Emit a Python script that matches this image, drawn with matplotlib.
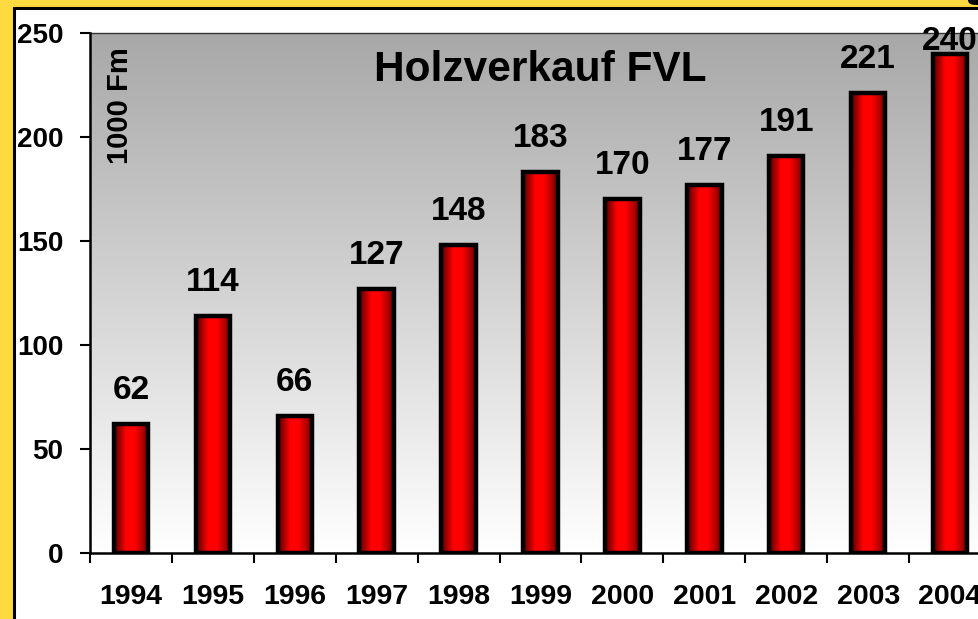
import numpy as np
import matplotlib
matplotlib.use("Agg")
import matplotlib.pyplot as plt
from matplotlib.colors import LinearSegmentedColormap
from matplotlib.patches import Rectangle, FancyBboxPatch

years = ["1994", "1995", "1996", "1997", "1998", "1999", "2000", "2001", "2002", "2003", "2004"]
values = [62, 114, 66, 127, 148, 183, 170, 177, 191, 221, 240]
yticks = [0, 50, 100, 150, 200, 250]
title = "Holzverkauf FVL"
unit = "1000 Fm"

plt.rcParams['font.family'] = ['Liberation Sans', 'DejaVu Sans']
plt.rcParams['font.weight'] = 'bold'

W, H = 979, 619
fig = plt.figure(figsize=(W / 100, H / 100), dpi=100)
fig.patch.set_facecolor('#FFD940')

# inner white panel with black border
panel = Rectangle((14 / W, -0.05), 1.2, (H - 8) / H + 0.05, transform=fig.transFigure,
                  facecolor='white', edgecolor='black', lw=2.2, zorder=-2)
fig.patches.append(panel)
corner = FancyBboxPatch((968 / W, 1 - 5 / H), 20 / W, 10 / H, boxstyle="round,pad=0,rounding_size=0.008",
                        transform=fig.transFigure, facecolor='black', edgecolor='none', zorder=-1)
fig.patches.append(corner)

left, right, top, bottom = 90, 991, 33, 553
ax = fig.add_axes([left / W, (H - bottom) / H, (right - left) / W, (bottom - top) / H])
ax.set_zorder(1)
ax.set_facecolor('none')

n = len(years)
x = np.arange(n)

# background gradient
grad = np.linspace(0, 1, 256).reshape(-1, 1)
bg_cmap = LinearSegmentedColormap.from_list('bg', ['#FFFFFF', '#A8A8A8'])
ax.imshow(grad, extent=[0, 1, 0, 1], transform=ax.transAxes, aspect='auto',
          cmap=bg_cmap, origin='lower', zorder=0)

bar_cmap = LinearSegmentedColormap.from_list('bar', [
    (0.0, '#500000'), (0.15, '#9A0000'), (0.35, '#FF0000'), (0.6, '#FF0000'),
    (0.85, '#A80000'), (1.0, '#580000')])
hgrad = np.linspace(0, 1, 256).reshape(1, -1)

bw = 0.42
bars = ax.bar(x, values, width=bw, facecolor='none', edgecolor='black', lw=3.2, zorder=3)
for b in bars:
    im = ax.imshow(hgrad, extent=[b.get_x(), b.get_x() + b.get_width(), 0, b.get_height()],
                   aspect='auto', cmap=bar_cmap, zorder=2)
    im.set_clip_path(b)

ax.set_xlim(-0.5, n - 0.5)
ax.set_ylim(0, 250)

for xi, v in zip(x, values):
    ax.text(xi, min(v + 12, 242), str(v), ha='center', va='baseline',
            fontsize=24, fontweight='bold', zorder=5, clip_on=False)

ax.text(0.5, 0.929, title, transform=ax.transAxes, ha='center', va='center',
        fontsize=30.5, fontweight='bold', zorder=5)
ax.text(0.033, 0.86, unit, transform=ax.transAxes, ha='center', va='center',
        rotation=90, fontsize=21, fontweight='bold', zorder=5)

ax.set_yticks(yticks)
ax.set_yticklabels([str(t) for t in yticks], fontsize=20, fontweight='bold')
ax.tick_params(axis='y', direction='out', length=7, width=1.5, pad=12)

ax.set_xticks(np.arange(n + 1) - 0.5)
ax.set_xticklabels([])
ax.tick_params(axis='x', which='major', direction='out', length=7, width=1.5)
ax.set_xticks(x, minor=True)
ax.set_xticklabels(years, minor=True, fontsize=20.5, fontweight='bold')
ax.tick_params(axis='x', which='minor', length=0, pad=22)

for s in ['left', 'bottom']:
    ax.spines[s].set_linewidth(1.8)
    ax.spines[s].set_zorder(4)
ax.spines['top'].set_linewidth(1.0)
ax.spines['top'].set_color('#333333')
ax.spines['right'].set_visible(False)

fig.savefig('out.png', dpi=100, facecolor=fig.get_facecolor())
